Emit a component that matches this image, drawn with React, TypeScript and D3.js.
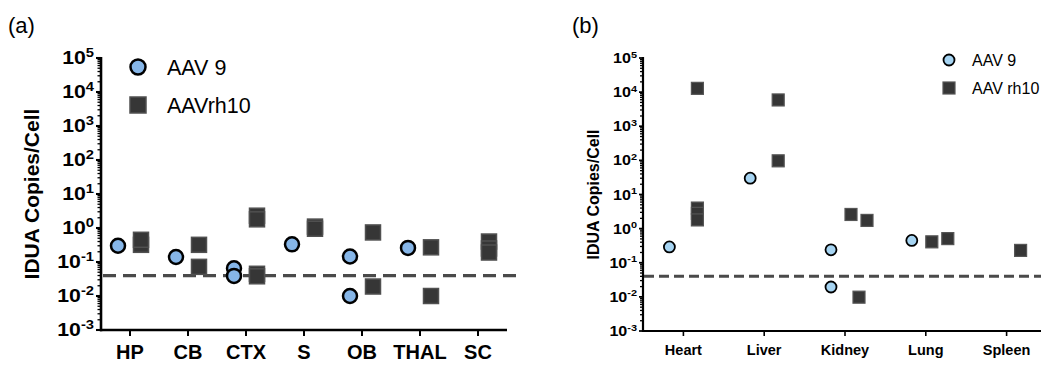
import React from "react";
import * as d3 from "d3";

// ---------- Data ----------
const regionsA = ["HP", "CB", "CTX", "S", "OB", "THAL", "SC"];
const aav9A: [string, number][] = [
  ["HP", 0.3], ["CB", 0.14], ["CTX", 0.065], ["CTX", 0.039], ["S", 0.33],
  ["OB", 0.145], ["OB", 0.01], ["THAL", 0.26],
];
const rh10A: [string, number][] = [
  ["HP", 0.32], ["HP", 0.45], ["CB", 0.32], ["CB", 0.072], ["CTX", 2.3], ["CTX", 1.8],
  ["CTX", 0.045], ["CTX", 0.038], ["S", 1.1], ["S", 0.95], ["OB", 0.74], ["OB", 0.019],
  ["THAL", 0.27], ["THAL", 0.01], ["SC", 0.4], ["SC", 0.25], ["SC", 0.19],
];
const tissuesB = ["Heart", "Liver", "Kidney", "Lung", "Spleen"];
const aav9B: [string, number][] = [
  ["Heart", 0.29], ["Liver", 30], ["Kidney", 0.24], ["Kidney", 0.0195], ["Lung", 0.45],
];
// [tissue, value, jitter slot]
const rh10B: [string, number, number][] = [
  ["Heart", 12900, 0], ["Heart", 4.0, 0], ["Heart", 2.8, 0], ["Heart", 1.8, 0],
  ["Liver", 5900, 0], ["Liver", 97, 0],
  ["Kidney", 2.6, -1], ["Kidney", 1.74, 1], ["Kidney", 0.0098, 0],
  ["Lung", 0.41, -1], ["Lung", 0.51, 1],
  ["Spleen", 0.23, 0],
];
const logTicks = [-3, -2, -1, 0, 1, 2, 3, 4, 5];
const limitOfDetection = 0.04;
const seriesNames = ["AAV 9", "AAVrh10", "AAV rh10"];

const FONT = "'Liberation Sans', Arial, sans-serif";

function minorTicks(): number[] {
  const out: number[] = [];
  for (let e = -3; e < 5; e++) for (let m = 2; m <= 9; m++) out.push(m * Math.pow(10, e));
  return out;
}

function YAxis({ y, x, fs, sfs, majLen, minLen, sw, labelX, labelFs, sup, stretch }: any) {
  return (
    <g>
      <line x1={x} x2={x} y1={y.range()[1] - 1} y2={y.range()[0] + sw / 2} stroke="#000" strokeWidth={sw} />
      {minorTicks().map((v, i) => (
        <line key={i} x1={x - minLen} x2={x} y1={y(v)} y2={y(v)} stroke="#000" strokeWidth={1.3} />
      ))}
      {logTicks.map((e) => (
        <g key={e}>
          <line x1={x - majLen} x2={x} y1={y(Math.pow(10, e))} y2={y(Math.pow(10, e))} stroke="#000" strokeWidth={sw * 0.8} />
          <text transform={`translate(${x - majLen - 2},${y(Math.pow(10, e)) + fs * 0.36}) scale(${stretch},1)`} textAnchor="end" fontFamily={FONT} fontWeight="bold" fontSize={fs}>
            10<tspan dy={-sup} fontSize={sfs}>{e}</tspan>
          </text>
        </g>
      ))}
      <text transform={`translate(${labelX},${(y.range()[0] + y.range()[1]) / 2}) rotate(-90)`} textAnchor="middle" fontFamily={FONT} fontWeight="bold" fontSize={labelFs}>
        IDUA Copies/Cell
      </text>
    </g>
  );
}

export default function App() {
  // Panel (a)
  const yA = d3.scaleLog().domain([1e-3, 1e5]).range([330, 58]);
  const xA = d3.scaleBand().domain(regionsA).range([101, 507]);
  const cA = (k: string) => (xA(k) as number) + xA.bandwidth() / 2;
  // Panel (b)
  const yB = d3.scaleLog().domain([1e-3, 1e5]).range([331, 58]);
  const xB = d3.scaleBand().domain(tissuesB).range([643, 1047]);
  const cB = (k: string) => (xB(k) as number) + xB.bandwidth() / 2;

  return (
    <svg width={1041} height={365} style={{ position: "absolute", left: 0, top: 0, background: "#fff" }}>
      {/* Panel labels */}
      <text x={8} y={33} fontFamily={FONT} fontSize={22}>(a)</text>
      <text x={572} y={33} fontFamily={FONT} fontSize={22}>(b)</text>

      {/* ===== Panel (a) ===== */}
      <YAxis y={yA} x={101} fs={18} sfs={12.5} majLen={5} minLen={3.5} sw={2.6} labelX={39} labelFs={21} sup={7.5} stretch={1.18} />
      <line x1={100} x2={507} y1={330} y2={330} stroke="#000" strokeWidth={2.6} />
      {regionsA.map((r) => (
        <g key={r}>
          <line x1={cA(r)} x2={cA(r)} y1={330} y2={336} stroke="#000" strokeWidth={2} />
          <text x={cA(r)} y={359} textAnchor="middle" fontFamily={FONT} fontWeight="bold" fontSize={20}>{r}</text>
        </g>
      ))}
      <line x1={103} x2={519} y1={yA(limitOfDetection)} y2={yA(limitOfDetection)} stroke="#4a4a4a" strokeWidth={3.2} strokeDasharray="13 7" />
      {rh10A.map(([k, v], i) => (
        <rect key={"sa" + i} x={cA(k) + 11 - 7.5} y={yA(v) - 7.5} width={15} height={15} fill="#363636" stroke="#505050" strokeWidth={1.5} />
      ))}
      {aav9A.map(([k, v], i) => (
        <circle key={"ca" + i} cx={cA(k) - 12} cy={yA(v)} r={7} fill="#86b6e8" stroke="#000" strokeWidth={2.5} />
      ))}
      {/* Legend (a) */}
      <circle cx={138} cy={67} r={7.5} fill="#86b6e8" stroke="#000" strokeWidth={2.5} />
      <text x={167} y={75} fontFamily={FONT} fontSize={21.5}>{seriesNames[0]}</text>
      <rect x={130} y={97} width={16} height={16} fill="#363636" stroke="#505050" strokeWidth={1.5} />
      <text x={167} y={113} fontFamily={FONT} fontSize={21.5}>{seriesNames[1]}</text>

      {/* ===== Panel (b) ===== */}
      <YAxis y={yB} x={643} fs={14} sfs={9.5} majLen={4} minLen={3} sw={2.2} labelX={599} labelFs={16} sup={5.5} stretch={1.15} />
      <line x1={642} x2={1041} y1={331} y2={331} stroke="#000" strokeWidth={2.2} />
      {tissuesB.map((t) => (
        <g key={t}>
          <line x1={cB(t)} x2={cB(t)} y1={331} y2={336} stroke="#000" strokeWidth={1.6} />
          <text x={cB(t)} y={355} textAnchor="middle" fontFamily={FONT} fontWeight="bold" fontSize={14.5}>{t}</text>
        </g>
      ))}
      <line x1={644} x2={1041} y1={yB(limitOfDetection)} y2={yB(limitOfDetection)} stroke="#4a4a4a" strokeWidth={3} strokeDasharray="10 5" />
      {rh10B.map(([k, v, j], i) => (
        <rect key={"sb" + i} x={cB(k) + 14 + j * 8 - 6} y={yB(v) - 6} width={12} height={12} fill="#363636" stroke="#555" strokeWidth={1.2} />
      ))}
      {aav9B.map(([k, v], i) => (
        <circle key={"cb" + i} cx={cB(k) - 14} cy={yB(v)} r={5.5} fill="#a6d4f2" stroke="#000" strokeWidth={1.8} />
      ))}
      {/* Legend (b) */}
      <circle cx={949} cy={60} r={5.5} fill="#a6d4f2" stroke="#000" strokeWidth={1.8} />
      <text x={972} y={66} fontFamily={FONT} fontSize={16}>{seriesNames[0]}</text>
      <rect x={943} y={82} width={12} height={12} fill="#363636" stroke="#555" strokeWidth={1.2} />
      <text x={972} y={94} fontFamily={FONT} fontSize={16}>{seriesNames[2]}</text>
    </svg>
  );
}
